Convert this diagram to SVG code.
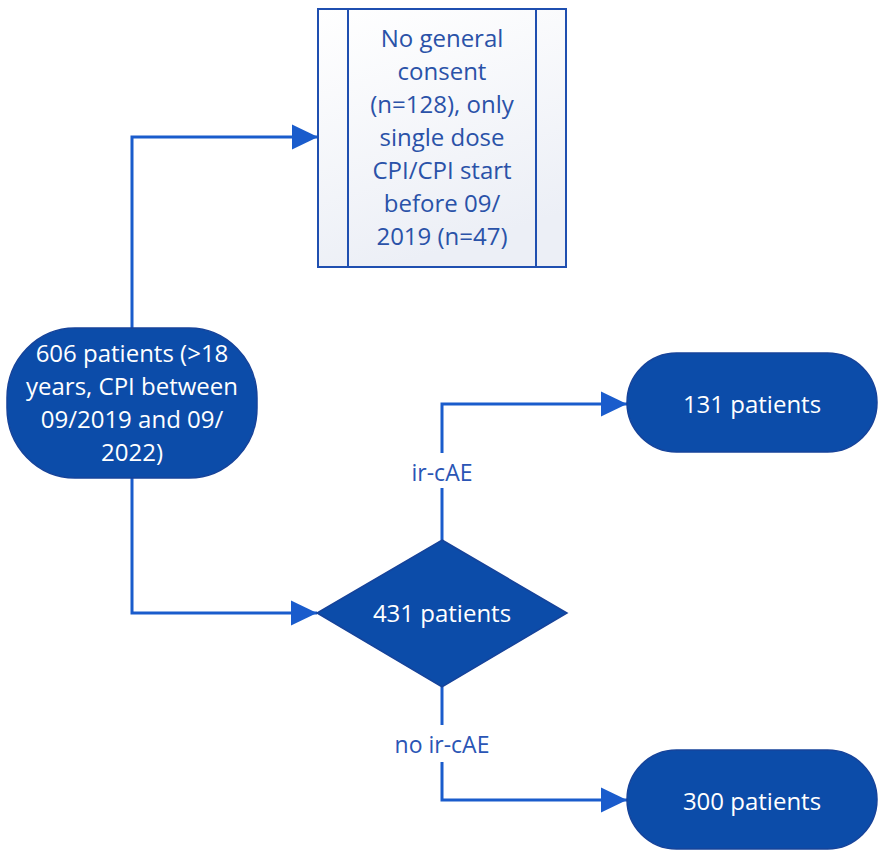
<svg xmlns="http://www.w3.org/2000/svg" width="886" height="860" viewBox="0 0 886 860">
  <style>
    .node { fill: #0c4ca9; stroke: #16439a; stroke-width: 1.5; }
    .nodetext { font-family: "Open Sans", "Liberation Sans", sans-serif; font-size: 24px; fill: #ffffff; text-anchor: middle; }
    .boxtext { font-family: "Open Sans", "Liberation Sans", sans-serif; font-size: 24px; fill: #2a52a8; text-anchor: middle; }
    .label { font-family: "Open Sans", "Liberation Sans", sans-serif; font-size: 23px; fill: #2a55b5; text-anchor: middle; }
    .conn { fill: none; stroke: #1a5ccc; stroke-width: 3; }
    .box { stroke: #1f4fb0; stroke-width: 2; }
  </style>
  <defs>
    <linearGradient id="boxfill" x1="0" y1="0" x2="0.3" y2="1">
      <stop offset="0" stop-color="#ffffff"/>
      <stop offset="1" stop-color="#eceff6"/>
    </linearGradient>
    <marker id="arrow" markerUnits="userSpaceOnUse" markerWidth="26" markerHeight="26" viewBox="0 0 25 24" refX="25" refY="12" orient="auto">
      <path d="M0,0 L25,12 L0,24 Z" fill="#1a5ccc"/>
    </marker>
  </defs>

  <g id="connectors">
    <path class="conn" d="M132,328 V137 H318" marker-end="url(#arrow)"/>
    <path class="conn" d="M132,478 V613 H317" marker-end="url(#arrow)"/>
    <path class="conn" d="M442,540 V488"/>
    <path class="conn" d="M442,453 V404 H627" marker-end="url(#arrow)"/>
    <path class="conn" d="M442,687 V725"/>
    <path class="conn" d="M442,762 V800 H627" marker-end="url(#arrow)"/>
    <text class="label" x="442" y="481">ir-cAE</text>
    <text class="label" x="442" y="753">no ir-cAE</text>
  </g>

  <g id="excluded">
    <rect class="box" x="318" y="9" width="248" height="258" fill="url(#boxfill)"/>
    <line class="box" x1="348" y1="9" x2="348" y2="267"/>
    <line class="box" x1="536" y1="9" x2="536" y2="267"/>
    <text class="boxtext" x="442" y="47">No general</text>
    <text class="boxtext" x="442" y="80">consent</text>
    <text class="boxtext" x="442" y="113">(n=128), only</text>
    <text class="boxtext" x="442" y="146">single dose</text>
    <text class="boxtext" x="442" y="179">CPI/CPI start</text>
    <text class="boxtext" x="442" y="212">before 09/</text>
    <text class="boxtext" x="442" y="245">2019 (n=47)</text>
  </g>

  <g id="start">
    <rect class="node" x="7" y="328" width="250" height="150" rx="68" ry="70"/>
    <text class="nodetext" x="132" y="362">606 patients (&gt;18</text>
    <text class="nodetext" x="132" y="395">years, CPI between</text>
    <text class="nodetext" x="132" y="428">09/2019 and 09/</text>
    <text class="nodetext" x="132" y="461">2022)</text>
  </g>

  <g id="decision">
    <polygon class="node" points="442,540 567,613 442,687 317,613"/>
    <text class="nodetext" x="442" y="622">431 patients</text>
  </g>

  <g id="irsave">
    <rect class="node" x="627" y="353" width="250" height="99" rx="49.5" ry="49.5"/>
    <text class="nodetext" x="752" y="413">131 patients</text>
  </g>

  <g id="noirsave">
    <rect class="node" x="627" y="750" width="250" height="99" rx="49.5" ry="49.5"/>
    <text class="nodetext" x="752" y="810">300 patients</text>
  </g>
</svg>
